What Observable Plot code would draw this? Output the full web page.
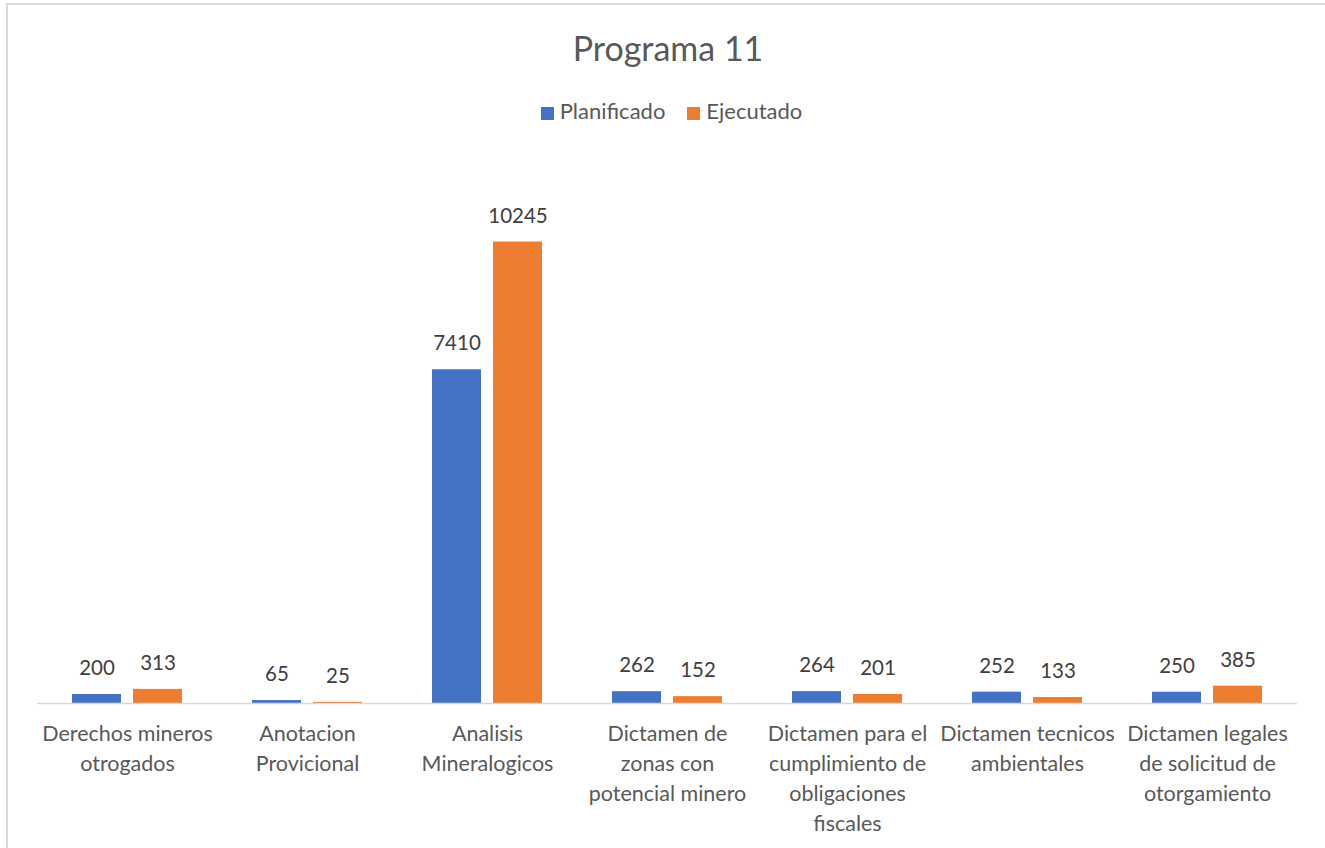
<!DOCTYPE html>
<html>
<head>
<meta charset="utf-8">
<script src="https://cdn.jsdelivr.net/npm/d3@7"></script>
<script src="https://cdn.jsdelivr.net/npm/@observablehq/plot@0.6"></script>
<style>
  html, body { margin: 0; padding: 0; background: #fff; }
  #wrap { position: relative; width: 1325px; height: 848px; overflow: hidden; font-family: Lato, "Open Sans", sans-serif; }
  #border { position: absolute; left: 6px; top: 3px; width: 1330px; height: 860px; border-left: 2px solid #d9d9d9; border-top: 2px solid #d9d9d9; box-sizing: border-box; }
  #title { position: absolute; left: 0; width: 1336px; top: 28px; line-height: 40px; text-align: center; font-size: 34px; color: #595959; }
  #legend { position: absolute; left: 0; width: 1343px; top: 99px; line-height: 24px; text-align: center; font-size: 22px; color: #595959; }
  #legend span.sw { display: inline-block; width: 13px; height: 13px; margin-right: 6px; vertical-align: -1px; }
  #legend span.item { margin: 0 11px; }
  #chart { position: absolute; left: 0; top: 140px; }
</style>
</head>
<body>
<div id="wrap">
  <div id="border"></div>
  <div id="title">Programa 11</div>
  <div id="legend"></div>
  <div id="chart"></div>
</div>
<script>
const categories = [
  "Derechos mineros otrogados",
  "Anotacion Provicional",
  "Analisis Mineralogicos",
  "Dictamen de zonas con potencial minero",
  "Dictamen para el cumplimiento de obligaciones fiscales",
  "Dictamen tecnicos ambientales",
  "Dictamen legales de solicitud de otorgamiento"
];
const tickLabels = [
  "Derechos mineros\notrogados",
  "Anotacion\nProvicional",
  "Analisis\nMineralogicos",
  "Dictamen de\nzonas con\npotencial minero",
  "Dictamen para el\ncumplimiento de\nobligaciones\nfiscales",
  "Dictamen tecnicos\nambientales",
  "Dictamen legales\nde solicitud de\notorgamiento"
];
const seriesNames = ["Planificado", "Ejecutado"];
const seriesColors = ["#4472C4", "#ED7D31"];
const planificado = [200, 65, 7410, 262, 264, 252, 250];
const ejecutado = [313, 25, 10245, 152, 201, 133, 385];

const rows = [];
categories.forEach((c, i) => {
  rows.push({cat: c, series: seriesNames[0], value: planificado[i]});
  rows.push({cat: c, series: seriesNames[1], value: ejecutado[i]});
});
const catRows = categories.map((c, i) => ({cat: c, label: tickLabels[i]}));

// legend
const legend = document.getElementById("legend");
legend.innerHTML = seriesNames.map((s, i) =>
  `<span class="item"><span class="sw" style="background:${seriesColors[i]}"></span>${s}</span>`).join("");

const chart = Plot.plot({
  width: 1325,
  height: 708,
  marginLeft: 37,
  marginRight: 28,
  marginTop: 0,
  marginBottom: 145,
  style: {fontFamily: "Lato, 'Open Sans', sans-serif", background: "transparent"},
  fx: {domain: categories, padding: 0, axis: null},
  x: {domain: seriesNames, paddingInner: 0.2, paddingOuter: 0.57, axis: null},
  y: {domain: [0, 12500], axis: null},
  color: {domain: seriesNames, range: seriesColors},
  marks: [
    Plot.barY(rows, {fx: "cat", x: "series", y: "value", fill: "series"}),
    Plot.ruleY([0], {stroke: "#d9d9d9", strokeWidth: 1.3}),
    Plot.text(rows, {fx: "cat", x: "series", y: "value", text: d => String(d.value), dy: -26, fontSize: 20.5, fill: "#404040"}),
    Plot.text(catRows, {fx: "cat", text: "label", frameAnchor: "bottom", lineAnchor: "top", dy: 16, lineHeight: 1.4, fontSize: 21.5, fill: "#595959"})
  ]
});
document.getElementById("chart").appendChild(chart);
</script>
</body>
</html>
